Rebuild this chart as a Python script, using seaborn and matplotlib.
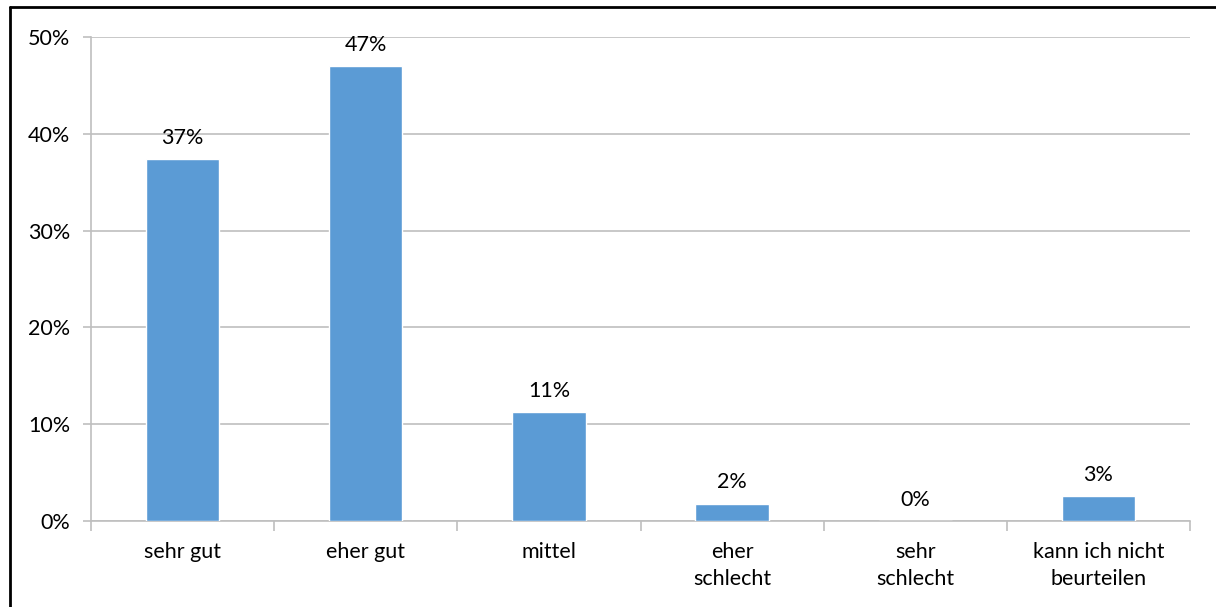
import matplotlib
matplotlib.use("Agg")
import matplotlib.pyplot as plt
from matplotlib.lines import Line2D
from matplotlib.ticker import FixedLocator
import seaborn as sns
import pandas as pd

categories = ["sehr gut", "eher gut", "mittel", "eher\nschlecht", "sehr\nschlecht",
              "kann ich nicht\nbeurteilen"]
shares = [37.4, 47.0, 11.3, 1.8, 0.0, 2.6]
y_ticks = [0, 10, 20, 30, 40, 50]

sns.set_theme(style="white")
plt.rcParams["font.family"] = ["Lato", "DejaVu Sans"]

df = pd.DataFrame({"Kategorie": categories, "Anteil": shares})

fig = plt.figure(figsize=(12.16, 6.07), dpi=100)
ax = fig.add_axes([91 / 1216, 86 / 607, (1190 - 91) / 1216, (521 - 37) / 607])

grid_col = "#bfbfbf"
fs = 15.5
sns.barplot(data=df, x="Kategorie", y="Anteil", color="#5b9bd5", width=0.4,
            saturation=1, ax=ax, zorder=3)

ax.set_xlim(-0.5, len(categories) - 0.5)
ax.set_ylim(0, 50)
ax.set_yticks(y_ticks)
ax.set_yticklabels([f"{v}%" for v in y_ticks])
ax.yaxis.grid(True, color=grid_col, linewidth=1.2, zorder=0)
ax.set_axisbelow(True)
ax.set_xlabel("")
ax.set_ylabel("")

for side in ["top", "right"]:
    ax.spines[side].set_visible(False)
for side in ["left", "bottom"]:
    ax.spines[side].set_color(grid_col)
    ax.spines[side].set_linewidth(1.2)

ax.tick_params(axis="y", length=6, width=1.2, color=grid_col, labelsize=fs,
               labelcolor="#000000", pad=9, left=True)
ax.tick_params(axis="x", which="major", length=0, labelsize=fs,
               labelcolor="#000000", pad=15)
for lbl in ax.get_xticklabels():
    lbl.set_linespacing(1.45)
ax.xaxis.set_minor_locator(FixedLocator([i - 0.5 for i in range(len(categories) + 1)]))
ax.tick_params(axis="x", which="minor", length=7, width=1.2, color=grid_col,
               bottom=True)

for i, v in enumerate(shares):
    ax.annotate(f"{v:.0f}%", (i, v), xytext=(0, 8), textcoords="offset points",
                ha="center", va="bottom", fontsize=fs, color="#000000")

# outer frame of the chart area
fig.add_artist(Line2D([10 / 1216, 1.0], [1 - 7 / 607, 1 - 7 / 607],
                      transform=fig.transFigure, color="black", linewidth=2))
fig.add_artist(Line2D([10 / 1216, 10 / 1216], [0, 1 - 7 / 607],
                      transform=fig.transFigure, color="black", linewidth=2))

fig.savefig("out.png", dpi=100)
